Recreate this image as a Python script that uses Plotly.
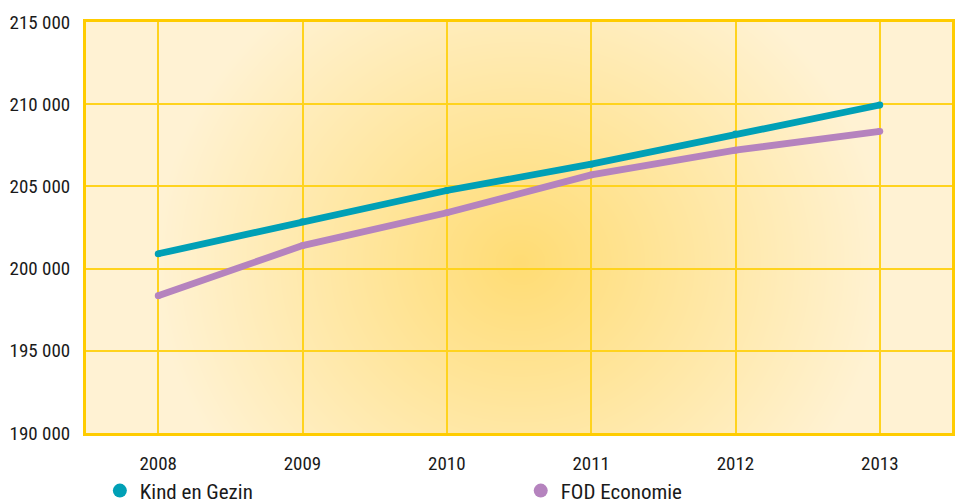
import base64
import struct
import zlib

import numpy as np
import plotly.graph_objects as go

# ---- data ----
years = [2008, 2009, 2010, 2011, 2012, 2013]
kind_en_gezin = [200900, 202850, 204750, 206350, 208200, 209950]
fod_economie = [198350, 201400, 203400, 205700, 207200, 208350]
series_names = ["Kind en Gezin", "FOD Economie"]
series_colors = ["#00A0B6", "#B583BE"]
y_ticks = [190000, 195000, 200000, 205000, 210000, 215000]

FONT = "Liberation Sans Narrow, Roboto Condensed, Arial Narrow, Roboto, sans-serif"

# ---- radial gradient background (styling only) ----
W, H = 866, 411
yy, xx = np.mgrid[0:H, 0:W].astype(float)
cx, cy, rx, ry = 434.0, 240.0, 365.0, 335.0
t = np.clip(np.sqrt(((xx - cx) / rx) ** 2 + ((yy - cy) / ry) ** 2), 0, 1)
c0 = np.array([255, 220, 116], float)
c1 = np.array([255, 242, 211], float)
img = (c0[None, None, :] + t[..., None] * (c1 - c0)[None, None, :]).round().astype(np.uint8)


def png_bytes(arr):
    h, w, _ = arr.shape
    raw = b"".join(b"\x00" + arr[i].tobytes() for i in range(h))

    def chunk(tag, data):
        c = struct.pack(">I", len(data)) + tag + data
        return c + struct.pack(">I", zlib.crc32(tag + data) & 0xFFFFFFFF)

    return (b"\x89PNG\r\n\x1a\n"
            + chunk(b"IHDR", struct.pack(">IIBBBBB", w, h, 8, 2, 0, 0, 0))
            + chunk(b"IDAT", zlib.compress(raw, 9))
            + chunk(b"IEND", b""))


bg_uri = "data:image/png;base64," + base64.b64encode(png_bytes(img)).decode()

fig = go.Figure()
legend_ids = ["legend", "legend2"]
for name, vals, col, lg in zip(series_names, [kind_en_gezin, fod_economie], series_colors, legend_ids):
    fig.add_trace(go.Scatter(
        x=years, y=vals, mode="lines+markers", name=name,
        line=dict(color=col, width=6.8),
        marker=dict(color=col, size=6.8),
        showlegend=False, legendgroup=name, hoverinfo="x+y+name",
    ))
    fig.add_trace(go.Scatter(
        x=[None], y=[None], mode="markers", name=name,
        marker=dict(color=col, size=14, symbol="circle"),
        legendgroup=name, showlegend=True, legend=lg,
    ))

fig.add_layout_image(dict(
    source=bg_uri, xref="paper", yref="paper", x=0, y=1, sizex=1, sizey=1,
    xanchor="left", yanchor="top", sizing="stretch", layer="below",
))

axis_common = dict(
    showline=True, mirror=True, linecolor="#FFCC00", linewidth=3,
    showgrid=True, gridcolor="#FFD31E", gridwidth=1.6,
    zeroline=False, ticks="", automargin=False,
    tickfont=dict(family=FONT, size=19, color="#1a1a1a"),
)

legend_common = dict(
    orientation="h", xanchor="left", y=-0.141, yanchor="middle",
    font=dict(family=FONT, size=21, color="#1a1a1a"),
    bgcolor="rgba(0,0,0,0)", itemclick=False, itemdoubleclick=False,
)

fig.update_layout(
    width=955, height=504,
    margin=dict(l=86, r=3, t=22, b=71, autoexpand=False),
    paper_bgcolor="white",
    plot_bgcolor="rgba(0,0,0,0)",
    separators=", ",
    font=dict(family=FONT, size=19, color="#1a1a1a"),
    xaxis=dict(range=[2007.5, 2013.5], tickvals=years, ticklabelstandoff=11, **axis_common),
    yaxis=dict(range=[190000, 215000], tickvals=y_ticks, tickformat=",d", ticklabelstandoff=9, **axis_common),
    legend=dict(x=0.016, **legend_common),
    legend2=dict(x=0.502, **legend_common),
    showlegend=True,
)

fig.write_html(
    "out.html",
    config={"displayModeBar": False},
    post_script="document.documentElement.style.margin='0';"
                "document.body.style.margin='0';"
                "document.body.style.overflow='hidden';",
)
